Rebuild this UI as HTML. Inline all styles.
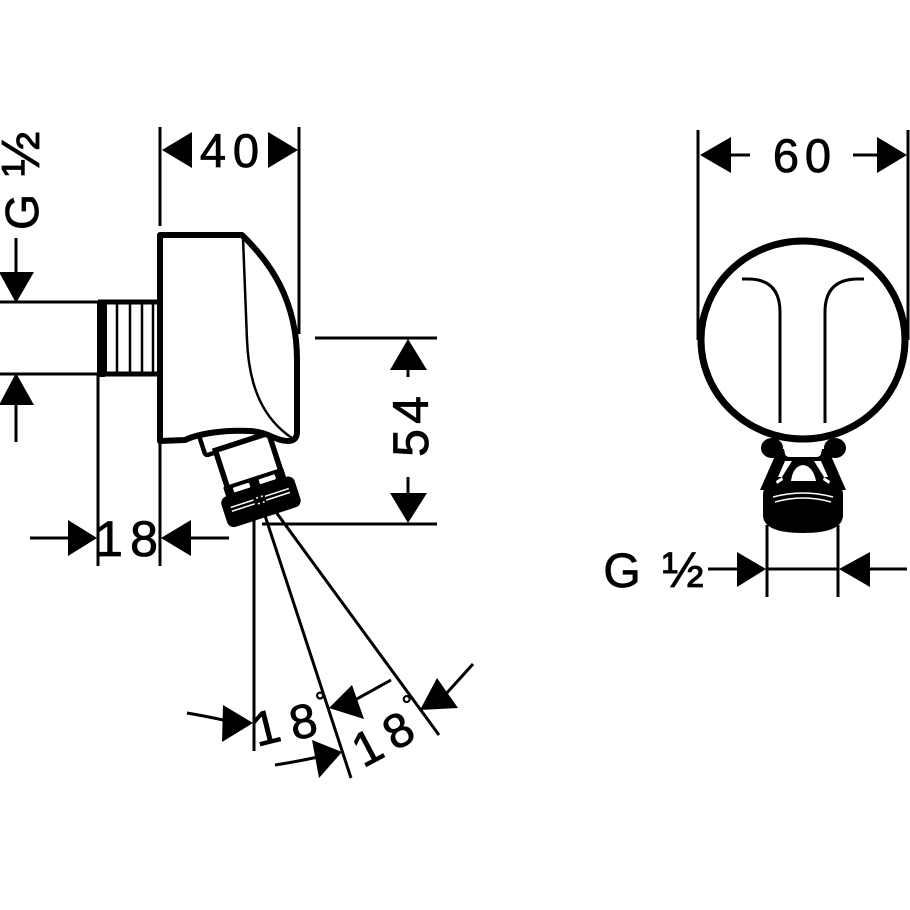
<!DOCTYPE html>
<html><head><meta charset="utf-8">
<style>html,body{margin:0;padding:0;background:#fff}svg{display:block}</style>
</head>
<body>
<svg xmlns="http://www.w3.org/2000/svg" width="910" height="910" viewBox="0 0 910 910" font-family="'Liberation Sans', sans-serif">
<rect width="910" height="910" fill="#fff"/>

<!-- thin lines -->
<g stroke="#000" stroke-width="3" fill="none">
  <!-- left G1/2 dim -->
  <line x1="16" y1="238" x2="16" y2="280"/>
  <line x1="16" y1="395" x2="16" y2="442"/>
  <line x1="0" y1="302" x2="100" y2="302"/>
  <line x1="0" y1="374" x2="100" y2="374"/>
  <!-- wall / extension lines -->
  <line x1="98" y1="374" x2="98" y2="566"/>
  <line x1="160" y1="127" x2="160" y2="226"/>
  <line x1="160" y1="438" x2="160" y2="566"/>
  <line x1="299" y1="127" x2="299" y2="334"/>
  <!-- 18 dim -->
  <line x1="30" y1="538" x2="72" y2="538"/>
  <line x1="188" y1="538" x2="229" y2="538"/>
  <!-- 54 dim -->
  <line x1="315" y1="338" x2="437" y2="338"/>
  <line x1="262" y1="524" x2="437" y2="524"/>
  <line x1="408" y1="365" x2="408" y2="377"/>
  <line x1="408" y1="477" x2="408" y2="497"/>
  <!-- spray lines -->
  <line x1="254" y1="482" x2="254" y2="751"/>
  <line x1="254" y1="482" x2="351" y2="778"/>
  <line x1="254" y1="482" x2="439" y2="735"/>
  <!-- angle arrow leaders -->
  <path d="M187,713 Q205,716 228,721"/>
  <path d="M355,700 L391,680"/>
  <path d="M275,765 Q295,762 318,757"/>
  <path d="M445,695 L473,664"/>
  <!-- right view ext lines -->
  <line x1="698" y1="130" x2="698" y2="340"/>
  <line x1="908" y1="130" x2="908" y2="340"/>
  <line x1="731" y1="155" x2="750" y2="155"/>
  <line x1="853" y1="155" x2="879" y2="155"/>
  <line x1="767" y1="525" x2="767" y2="597"/>
  <line x1="838" y1="525" x2="838" y2="597"/>
  <line x1="708" y1="569" x2="740" y2="569"/>
  <line x1="766" y1="569" x2="839" y2="569"/>
  <line x1="868" y1="569" x2="907" y2="569"/>
</g>

<!-- arrows -->
<g fill="#000">
  <polygon points="-1,272 34,272 16,303"/>
  <polygon points="-1,405 34,405 16,373"/>
  <polygon points="162,150 192,132 192,168"/>
  <polygon points="298,150 268,132 268,168"/>
  <polygon points="97,538 68,520 68,556"/>
  <polygon points="161,538 191,520 191,556"/>
  <polygon points="408,339 390,370 427,370"/>
  <polygon points="390,493 427,493 408,523"/>
  <polygon points="253,723 223,705 222,742"/>
  <polygon points="329,708 352,685 364,719"/>
  <polygon points="342,752 312,740 319,778"/>
  <polygon points="420,710 437,678 458,708"/>
  <polygon points="700,155 731,137 731,173"/>
  <polygon points="907,155 877,137 877,173"/>
  <polygon points="766,569 737,552 737,587"/>
  <polygon points="839,569 870,552 870,587"/>
</g>

<!-- threaded pipe -->
<g stroke="#000" fill="none">
  <line x1="98" y1="302" x2="162" y2="302" stroke-width="5"/>
  <line x1="98" y1="374" x2="162" y2="374" stroke-width="5"/>
  <line x1="117" y1="304" x2="117" y2="372" stroke-width="2.5"/>
  <line x1="130" y1="304" x2="130" y2="372" stroke-width="2.5"/>
  <line x1="142" y1="304" x2="142" y2="372" stroke-width="2.5"/>
  <line x1="153" y1="304" x2="153" y2="372" stroke-width="2.5"/>
</g>
<rect x="97" y="300" width="10" height="77" rx="3" fill="#000"/>

<!-- nozzle (side view), rotated -->
<g transform="translate(254,482) rotate(-18)">
  <rect x="-38" y="-64" width="70" height="24" rx="3" fill="#fff" stroke="#000" stroke-width="4.5"/>
  <rect x="-27" y="-42" width="56" height="42" fill="#fff" stroke="#000" stroke-width="5.5"/>
  <rect x="-31" y="-5" width="63" height="14" rx="2" fill="#000"/>
  <rect x="-22" y="-1" width="17" height="5" rx="1" fill="#fff"/>
  <rect x="5" y="-1" width="17" height="5" rx="1" fill="#fff"/>
  <rect x="-38" y="5" width="77" height="32" rx="7" fill="#000"/>
  <g stroke="#fff" stroke-width="1.5">
    <line x1="-30" y1="17" x2="-6" y2="17"/>
    <line x1="-30" y1="21" x2="-6" y2="21"/>
    <line x1="6" y1="17" x2="31" y2="17"/>
    <line x1="6" y1="21" x2="31" y2="21"/>
    <line x1="-3" y1="16" x2="-1" y2="16"/>
    <line x1="2" y1="16" x2="4" y2="16"/>
    <line x1="-3" y1="22" x2="-1" y2="22"/>
    <line x1="2" y1="22" x2="4" y2="22"/>
  </g>
</g>

<!-- body -->
<path d="M160,235 L242,235 C270,262 297,300 297,360 L297,432 Q297,441 288,441 C276,441 268,432 250,431 C225,430 200,433 185,440 L160,441 Z"
      fill="#fff" stroke="#000" stroke-width="6" stroke-linejoin="round"/>
<path d="M243,238 L247,340 C249,390 265,420 292,438" fill="none" stroke="#000" stroke-width="2.5"/>

<!-- right front view nozzle -->
<ellipse cx="772" cy="448" rx="11" ry="10" fill="#000"/>
<ellipse cx="835" cy="448" rx="11" ry="10" fill="#000"/>
<polygon points="778,449 828,449 846,490 760,490" fill="#000"/>
<polygon points="785,461 792,461 782,477 778,477" fill="#fff"/>
<polygon points="821,461 814,461 824,477 828,477" fill="#fff"/>
<path d="M791,481 Q793,466 803,465 Q813,466 816,481 Z" fill="#fff"/>
<path d="M776,481 L782,477 L783,480 L777,484 Z" fill="#fff"/>
<path d="M830,481 L824,477 L823,480 L829,484 Z" fill="#fff"/>
<path d="M763,495 Q763,484 774,484 L832,484 Q843,484 843,495 L843,515 Q843,533 803,533 Q763,533 763,515 Z" fill="#000"/>
<path d="M773,497 Q803,489 833,497" stroke="#fff" stroke-width="1.5" fill="none"/>
<path d="M775,502 Q803,494 831,502" stroke="#fff" stroke-width="1.5" fill="none"/>

<!-- right circle -->
<ellipse cx="803" cy="340" rx="102" ry="99" fill="#fff" stroke="#000" stroke-width="7"/>
<path d="M783,444 L823,444 L821,454 Q820,457 816,457 L790,457 Q786,457 785,454 Z" fill="#fff"/>
<g stroke="#000" stroke-width="3" fill="none">
  <path d="M742,279 L748,279 Q780,279 780,312 L780,423"/>
  <path d="M864,279 L858,279 Q825,279 825,312 L825,423"/>
</g>

<!-- text -->
<g fill="#000" stroke="#000" stroke-width="0.8" font-size="47" text-anchor="middle">
  <text x="213" y="167">4</text>
  <text x="246" y="167">0</text>
  <text x="109" y="556" font-size="50">1</text>
  <text x="144" y="556" font-size="50">8</text>
  <text x="786" y="172">6</text>
  <text x="818" y="172">0</text>
  <text x="622" y="587" font-size="48">G</text>
  <text x="683" y="587" font-size="50">½</text>
  <g transform="translate(428,427) rotate(-90)" font-size="50">
    <text x="-16" y="0">5</text>
    <text x="17" y="0">4</text>
  </g>
  <g transform="translate(38,182) rotate(-90)" font-size="46">
    <text x="-30" y="0">G</text>
    <text x="28" y="1" font-size="54">½</text>
  </g>
  <g font-size="48">
    <text transform="translate(266,727) rotate(-14)" y="17">1</text>
    <text transform="translate(303,721) rotate(-12)" y="17">8</text>
    <text transform="translate(321,700) rotate(-12)" y="10" font-size="26">°</text>
    <text transform="translate(367,747) rotate(-28)" y="17">1</text>
    <text transform="translate(398,730) rotate(-30)" y="17">8</text>
    <text transform="translate(409,703) rotate(-30)" y="10" font-size="26">°</text>
  </g>
</g>
</svg>
</body></html>
